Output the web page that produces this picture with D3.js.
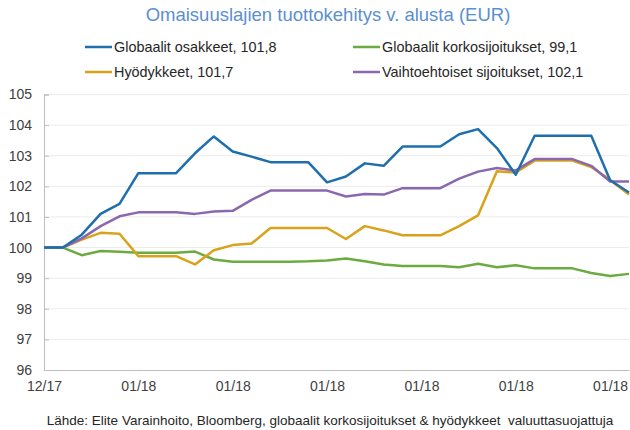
<!DOCTYPE html>
<html>
<head>
<meta charset="utf-8">
<script src="https://cdn.jsdelivr.net/npm/d3@7"></script>
<style>
  body { margin: 0; background: #fff; }
  text { font-family: "Liberation Sans", Arial, sans-serif; fill: #404040; }
</style>
</head>
<body>
<div id="canvas"></div>
<script>
"use strict"

/* Data */
let tickLabels = ["12/17", "01/18", "01/18", "01/18", "01/18", "01/18", "01/18"];
let tickIndex = [0, 5, 10, 15, 20, 25, 30];
let yTicks = [96, 97, 98, 99, 100, 101, 102, 103, 104, 105];

let seriesNames = ["Globaalit osakkeet, 101,8", "Globaalit korkosijoitukset, 99,1",
                   "Hyödykkeet, 101,7", "Vaihtoehtoiset sijoitukset, 102,1"];
let seriesColors = ["#1f6fae", "#6cab3f", "#d9a21b", "#8a68ae"];

let osakkeet = [100, 100, 100.42, 101.1, 101.43, 102.43, 102.43, 102.43, 103.08, 103.63,
                103.14, 102.97, 102.79, 102.79, 102.79, 102.13, 102.32, 102.75, 102.67, 103.3,
                103.3, 103.3, 103.7, 103.87, 103.25, 102.38, 103.65, 103.65, 103.65, 103.65,
                102.2, 101.8];
let korko = [100, 100, 99.75, 99.89, 99.86, 99.83, 99.83, 99.83, 99.87, 99.61,
             99.54, 99.54, 99.54, 99.54, 99.55, 99.58, 99.64, 99.55, 99.45, 99.4,
             99.4, 99.4, 99.36, 99.47, 99.36, 99.42, 99.32, 99.32, 99.32, 99.17,
             99.07, 99.14];
let hyodykkeet = [100, 100, 100.26, 100.48, 100.45, 99.72, 99.72, 99.72, 99.45, 99.91,
                  100.08, 100.13, 100.64, 100.64, 100.64, 100.64, 100.28, 100.7, 100.56, 100.4,
                  100.4, 100.4, 100.7, 101.05, 102.49, 102.45, 102.84, 102.84, 102.84, 102.63,
                  102.21, 101.73];
let vaihtoehtoiset = [100, 100, 100.3, 100.7, 101.02, 101.15, 101.15, 101.15, 101.1, 101.18,
                      101.2, 101.56, 101.86, 101.86, 101.86, 101.86, 101.67, 101.75, 101.73, 101.94,
                      101.94, 101.94, 102.25, 102.48, 102.6, 102.52, 102.89, 102.89, 102.89, 102.67,
                      102.16, 102.16];

let allSeries = [osakkeet, korko, hyodykkeet, vaihtoehtoiset];
// drawing order: green, orange, purple, blue on top
let drawOrder = [1, 2, 3, 0];

/* Drawing config */
let svgWidth = 630;
let svgHeight = 430;
let plotLeft = 44, plotRight = 629, plotTop = 94.5, plotBottom = 370;

let svg = d3.select("#canvas")
    .append("svg")
    .attr("width", svgWidth)
    .attr("height", svgHeight);

let xScale = d3.scaleLinear()
    .domain([0, osakkeet.length - 1])
    .range([plotLeft, plotRight]);

let yScale = d3.scaleLinear()
    .domain([96, 105])
    .range([plotBottom, plotTop]);

/* Title */
svg.append("text")
    .attr("x", 328)
    .attr("y", 21)
    .attr("text-anchor", "middle")
    .style("font-size", "18.5px")
    .style("fill", "#5b8fd0")
    .text("Omaisuuslajien tuottokehitys v. alusta (EUR)");

/* Legend */
let legendPos = [[85, 47], [353, 47], [85, 72], [353, 72]];
seriesNames.forEach(function (name, i) {
    let g = svg.append("g")
        .attr("transform", "translate(" + legendPos[i][0] + "," + legendPos[i][1] + ")");
    g.append("line")
        .attr("x1", 0).attr("x2", 27)
        .attr("y1", 0).attr("y2", 0)
        .attr("stroke", seriesColors[i])
        .attr("stroke-width", 2.5);
    g.append("text")
        .attr("x", 29)
        .attr("y", 5)
        .style("font-size", "14.4px")
        .style("fill", "#262626")
        .text(name);
});

/* Gridlines */
svg.append("g")
    .selectAll("line")
    .data(yTicks.filter(function (d) { return d > 96; }))
    .join("line")
    .attr("x1", plotLeft)
    .attr("x2", plotRight)
    .attr("y1", function (d) { return yScale(d); })
    .attr("y2", function (d) { return yScale(d); })
    .attr("stroke", "#ececec")
    .attr("stroke-width", 1);

/* Y axis */
let yAxis = d3.axisLeft(yScale)
    .tickValues(yTicks)
    .tickSize(-5)
    .tickPadding(12)
    .tickFormat(d3.format("d"));

let yg = svg.append("g")
    .attr("transform", "translate(" + plotLeft + ",0)")
    .call(yAxis);
yg.select(".domain").attr("stroke", "#bfbfbf");
yg.selectAll(".tick line").attr("stroke", "#bfbfbf");
yg.selectAll(".tick text")
    .style("font-size", "14px")
    .style("font-family", "Liberation Sans, Arial, sans-serif")
    .style("fill", "#404040");

/* X axis */
let xAxis = d3.axisBottom(xScale)
    .tickValues(tickIndex)
    .tickSize(0)
    .tickPadding(11)
    .tickFormat(function (d, i) { return tickLabels[i]; });

let xg = svg.append("g")
    .attr("transform", "translate(0," + plotBottom + ")")
    .call(xAxis);
xg.select(".domain").attr("stroke", "#bfbfbf");
xg.selectAll(".tick text")
    .style("font-size", "14px")
    .style("font-family", "Liberation Sans, Arial, sans-serif")
    .style("fill", "#404040");

/* Lines */
let line = d3.line()
    .x(function (d, i) { return xScale(i); })
    .y(function (d) { return yScale(d); });

drawOrder.forEach(function (k) {
    svg.append("path")
        .datum(allSeries[k])
        .attr("fill", "none")
        .attr("stroke", seriesColors[k])
        .attr("stroke-width", 2.5)
        .attr("stroke-linejoin", "round")
        .attr("d", line);
});

/* Source note */
svg.append("text")
    .attr("x", 330)
    .attr("y", 425)
    .attr("text-anchor", "middle")
    .style("font-size", "13.5px")
    .style("fill", "#262626")
    .style("white-space", "pre")
    .text("Lähde: Elite Varainhoito, Bloomberg, globaalit korkosijoitukset & hyödykkeet  valuuttasuojattuja");
</script>
</body>
</html>
